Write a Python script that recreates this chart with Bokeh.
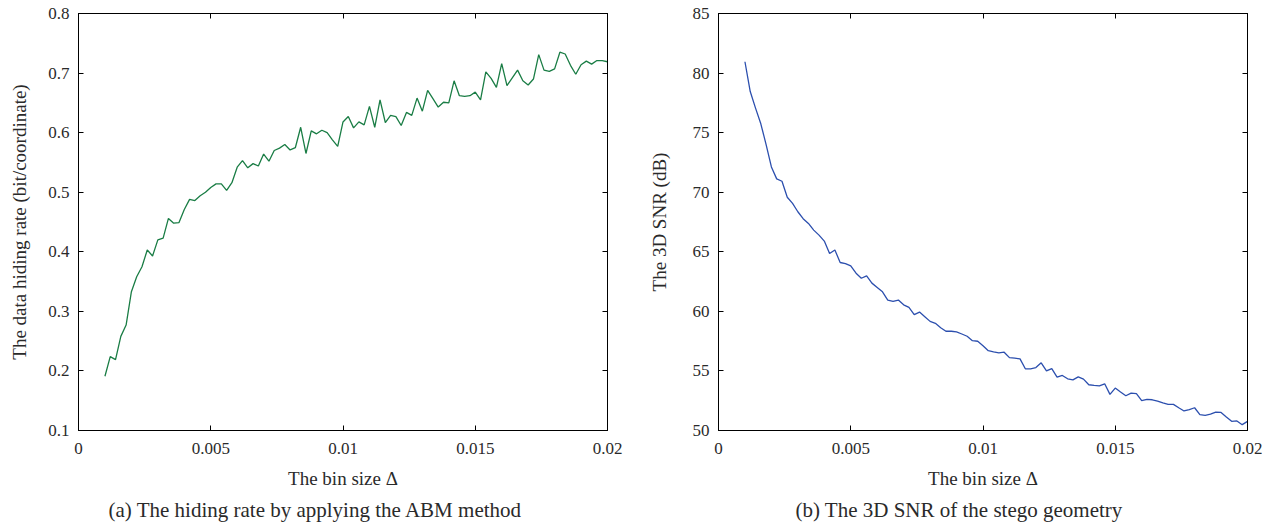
from bokeh.plotting import figure
from bokeh.models import Range1d, LinearAxis, FixedTicker, Title
from bokeh.layouts import row
from bokeh.embed import file_html
from bokeh.resources import INLINE

# ---------------- data ----------------
bin_size = [
    0.0010, 0.0012, 0.0014, 0.0016, 0.0018, 0.0020, 0.0022, 0.0024, 0.0026, 0.0028,
    0.0030, 0.0032, 0.0034, 0.0036, 0.0038, 0.0040, 0.0042, 0.0044, 0.0046, 0.0048,
    0.0050, 0.0052, 0.0054, 0.0056, 0.0058, 0.0060, 0.0062, 0.0064, 0.0066, 0.0068,
    0.0070, 0.0072, 0.0074, 0.0076, 0.0078, 0.0080, 0.0082, 0.0084, 0.0086, 0.0088,
    0.0090, 0.0092, 0.0094, 0.0096, 0.0098, 0.0100, 0.0102, 0.0104, 0.0106, 0.0108,
    0.0110, 0.0112, 0.0114, 0.0116, 0.0118, 0.0120, 0.0122, 0.0124, 0.0126, 0.0128,
    0.0130, 0.0132, 0.0134, 0.0136, 0.0138, 0.0140, 0.0142, 0.0144, 0.0146, 0.0148,
    0.0150, 0.0152, 0.0154, 0.0156, 0.0158, 0.0160, 0.0162, 0.0164, 0.0166, 0.0168,
    0.0170, 0.0172, 0.0174, 0.0176, 0.0178, 0.0180, 0.0182, 0.0184, 0.0186, 0.0188,
    0.0190, 0.0192, 0.0194, 0.0196, 0.0198, 0.0200,
]

hiding_rate = [
    0.191, 0.224, 0.219, 0.258, 0.277, 0.333, 0.358, 0.375, 0.403, 0.393,
    0.420, 0.423, 0.456, 0.448, 0.449, 0.471, 0.488, 0.486, 0.494, 0.500,
    0.508, 0.514, 0.514, 0.503, 0.516, 0.542, 0.553, 0.541, 0.548, 0.544,
    0.564, 0.552, 0.570, 0.574, 0.580, 0.571, 0.575, 0.609, 0.565, 0.603,
    0.598, 0.604, 0.600, 0.588, 0.577, 0.618, 0.627, 0.608, 0.618, 0.613,
    0.644, 0.609, 0.655, 0.617, 0.629, 0.627, 0.612, 0.634, 0.629, 0.658,
    0.636, 0.671, 0.657, 0.643, 0.651, 0.650, 0.687, 0.662, 0.661, 0.662,
    0.668, 0.655, 0.702, 0.691, 0.676, 0.716, 0.679, 0.692, 0.705, 0.687,
    0.680, 0.690, 0.731, 0.705, 0.703, 0.707, 0.735, 0.732, 0.713, 0.698,
    0.714, 0.720, 0.715, 0.721, 0.721, 0.719,
]

snr_db = [
    80.95, 78.45, 77.06, 75.74, 73.99, 72.12, 71.12, 70.92, 69.58, 69.06,
    68.36, 67.78, 67.38, 66.82, 66.40, 65.90, 64.85, 65.15, 64.10, 64.01,
    63.81, 63.20, 62.78, 62.98, 62.37, 62.01, 61.64, 60.95, 60.84, 60.95,
    60.55, 60.33, 59.72, 59.94, 59.55, 59.16, 59.00, 58.63, 58.33, 58.33,
    58.27, 58.10, 57.91, 57.54, 57.49, 57.12, 56.70, 56.60, 56.52, 56.57,
    56.12, 56.07, 56.01, 55.18, 55.18, 55.28, 55.68, 55.00, 55.20, 54.48,
    54.62, 54.34, 54.25, 54.50, 54.31, 53.84, 53.78, 53.75, 53.92, 53.03,
    53.56, 53.23, 52.92, 53.14, 53.09, 52.50, 52.61, 52.58, 52.47, 52.31,
    52.19, 52.19, 51.91, 51.64, 51.75, 51.91, 51.33, 51.27, 51.38, 51.55,
    51.52, 51.13, 50.77, 50.80, 50.49, 50.77,
]

x_ticks = [0, 0.005, 0.01, 0.015, 0.02]
x_tick_labels = ["0", "0.005", "0.01", "0.015", "0.02"]
rate_ticks = [0.1, 0.2, 0.3, 0.4, 0.5, 0.6, 0.7, 0.8]
rate_tick_labels = ["0.1", "0.2", "0.3", "0.4", "0.5", "0.6", "0.7", "0.8"]
snr_ticks = [50, 55, 60, 65, 70, 75, 80, 85]
snr_tick_labels = ["50", "55", "60", "65", "70", "75", "80", "85"]

# ---------------- styling ----------------
FONT = "Liberation Serif"
TXT = "#2a2a2a"
H = 525


def style_axis(ax, ticks, labels, show_labels=True):
    ax.ticker = FixedTicker(ticks=ticks)
    ax.major_tick_in = 5
    ax.major_tick_out = 0
    ax.minor_tick_line_color = None
    ax.axis_line_color = "black"
    ax.major_tick_line_color = "black"
    ax.major_label_text_font = FONT
    ax.major_label_text_font_size = "17px"
    if show_labels:
        ax.major_label_overrides = {t: l for t, l in zip(ticks, labels)}
        ax.major_label_text_color = TXT
        ax.major_label_standoff = 12
    else:
        ax.major_label_text_color = None
        ax.major_label_standoff = 0


def make_panel(y, color, y_start, y_end, yticks, ylabels, ylabel, caption,
               width, border_left, border_right, cap_offset, ylab_standoff):
    p = figure(width=width, height=H,
               x_range=Range1d(0, 0.02), y_range=Range1d(y_start, y_end),
               output_backend="svg", toolbar_location=None,
               min_border_left=border_left, min_border_right=border_right,
               min_border_top=13, min_border_bottom=94)
    p.line(bin_size, y, line_color=color, line_width=1.3)
    p.grid.visible = False
    p.outline_line_color = "black"

    xa = p.xaxis[0]
    style_axis(xa, x_ticks, x_tick_labels)
    xa.axis_label = "The bin size \u0394"
    xa.axis_label_text_font = FONT
    xa.axis_label_text_font_size = "19px"
    xa.axis_label_text_font_style = "normal"
    xa.axis_label_text_color = TXT
    xa.axis_label_standoff = 11

    ya = p.yaxis[0]
    style_axis(ya, yticks, ylabels)
    ya.major_label_standoff = 9
    ya.axis_label = ylabel
    ya.axis_label_text_font = FONT
    ya.axis_label_text_font_size = "19px"
    ya.axis_label_text_font_style = "normal"
    ya.axis_label_text_color = TXT
    ya.axis_label_standoff = ylab_standoff

    top = LinearAxis()
    style_axis(top, x_ticks, x_tick_labels, show_labels=False)
    p.add_layout(top, "above")
    right = LinearAxis()
    style_axis(right, yticks, ylabels, show_labels=False)
    p.add_layout(right, "right")

    p.add_layout(Title(text=caption, align="left", offset=cap_offset,
                       text_font=FONT, text_font_size="21px",
                       text_font_style="normal", text_color=TXT,
                       standoff=8), "below")
    return p


p1 = make_panel(hiding_rate, "#1a7d45", 0.1, 0.8, rate_ticks, rate_tick_labels,
                "The data hiding rate (bit/coordinate)",
                "(a)  The hiding rate by applying the ABM method",
                width=634, border_left=78, border_right=27, cap_offset=30,
                ylab_standoff=15)
p2 = make_panel(snr_db, "#2c4fae", 50, 85, snr_ticks, snr_tick_labels,
                "The 3D SNR (dB)",
                "(b)  The 3D SNR of the stego geometry",
                width=628, border_left=84, border_right=15, cap_offset=77,
                ylab_standoff=20)

layout = row(p1, p2)
open("out.html", "w").write(file_html(layout, INLINE))
